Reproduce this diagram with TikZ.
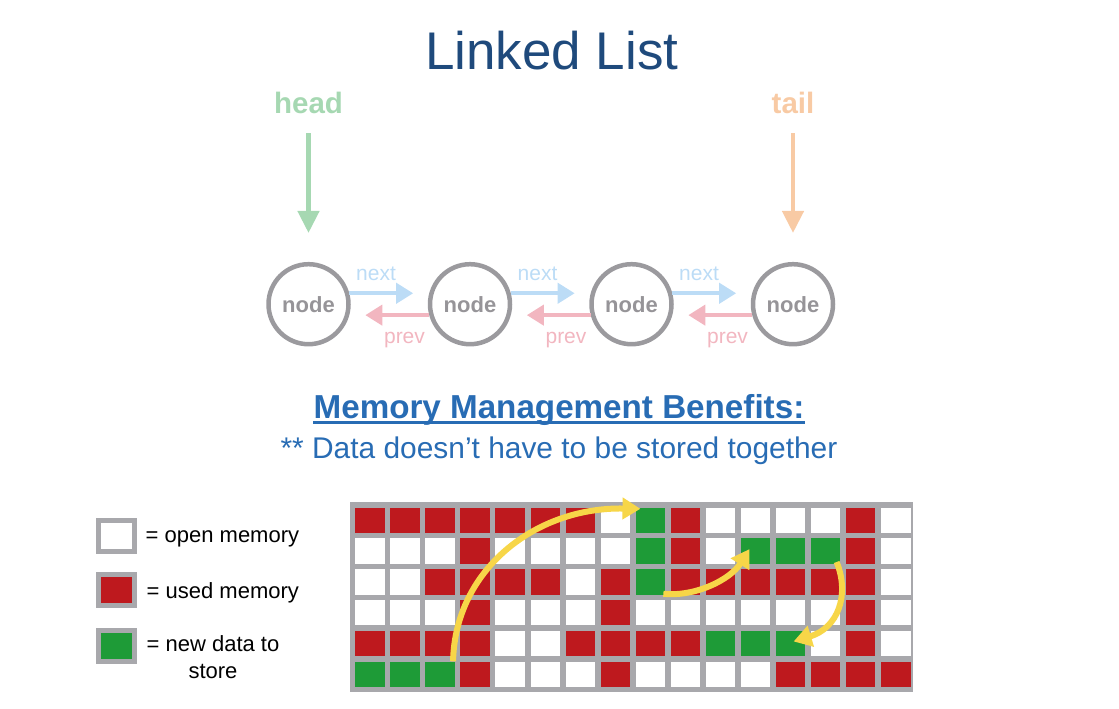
\documentclass[tikz,border=0pt]{standalone}
\usepackage{fontspec}
\setmainfont{Liberation Sans}
\usetikzlibrary{arrows.meta,calc}
\definecolor{titleblue}{RGB}{31,74,124}
\definecolor{headgreen}{RGB}{166,216,178}
\definecolor{tailpeach}{RGB}{248,202,164}
\definecolor{nodegray}{RGB}{150,148,152}
\definecolor{circlegray}{RGB}{155,154,158}
\definecolor{nextblue}{RGB}{188,220,246}
\definecolor{prevpink}{RGB}{242,182,192}
\definecolor{memblue}{RGB}{40,108,180}
\definecolor{cellred}{RGB}{190,25,30}
\definecolor{cellgreen}{RGB}{30,155,55}
\definecolor{gridgray}{RGB}{168,168,172}
\definecolor{arrowyellow}{RGB}{247,214,72}
\begin{document}
\begin{tikzpicture}[x=1pt,y=-1pt,
  llnode/.style={circle, draw=circlegray, line width=4.5pt, minimum size=80pt, inner sep=0pt,
    text=nodegray, font=\bfseries\fontsize{22}{26}\selectfont},
  nextarr/.style={draw=nextblue, line width=4pt, -{Triangle[width=20pt,length=17pt]}, shorten >=16pt},
  prevarr/.style={draw=prevpink, line width=4pt, -{Triangle[width=20pt,length=17pt]}, shorten >=16pt},
  nextlbl/.style={text=nextblue, font=\fontsize{21}{25}\selectfont, anchor=base, inner sep=0pt},
  prevlbl/.style={text=prevpink, font=\fontsize{21}{25}\selectfont, anchor=base, inner sep=0pt},
  endtxt/.style={font=\bfseries\fontsize{29.5}{34}\selectfont, anchor=base, inner sep=0pt},
  endarr/.style={line width=4.5pt, -{Triangle[width=21pt,length=22pt]}, shorten <=20pt, shorten >=29pt},
  cell/.style={minimum width=29.5pt, minimum height=25.5pt, inner sep=0pt, draw=none},
  cellR/.style={fill=cellred},
  cellW/.style={fill=white},
  cellG/.style={fill=cellgreen},
  legbox/.style={draw=gridgray, line width=5pt, minimum width=36pt, minimum height=31pt, inner sep=0pt},
  legtxt/.style={font=\fontsize{22}{26.6}\selectfont, anchor=base west, inner sep=0pt},
  movearr/.style={draw=arrowyellow, line width=6pt, -{Triangle[width=21pt,length=18pt]}}
]
\useasboundingbox (0,0) rectangle (1119,709);

% title
\node[font=\fontsize{53}{60}\selectfont, text=titleblue, anchor=base, inner sep=0pt] (title) at (551.75,70) {Linked List};

% head / tail
\node[endtxt, text=headgreen] (head) at (308.5,113) {head};
\node[endtxt, text=tailpeach] (tail) at (793,113) {tail};

% linked list nodes
\foreach \i/\x in {1/308.5,2/470,3/631.5,4/793}
  \node[llnode] (n\i) at (\x,304.2) {node};

\draw[endarr, draw=headgreen] (head) -- (n1);
\draw[endarr, draw=tailpeach] (tail) -- (n4);

\foreach \a/\b in {1/2,2/3,3/4} {
  \draw[nextarr] (n\a.15) -- (n\b.165);
  \draw[prevarr] (n\b.195) -- (n\a.-15);
}
\foreach \k/\x in {1/376,2/537.5,3/699}
  \node[nextlbl] (nx\k) at (\x,280) {next};
\foreach \k/\x in {1/404.5,2/566,3/727.5}
  \node[prevlbl] (pv\k) at (\x,343) {prev};

% memory header
\node[font=\bfseries\fontsize{33.2}{40}\selectfont, text=memblue, anchor=base, inner sep=0pt] (mm) at (559,418) {Memory Management Benefits:};
\draw[memblue, line width=2.5pt] ($(mm.base west)+(0,4.5)$) -- ($(mm.base east)+(0,4.5)$);
\node[font=\fontsize{29.9}{35}\selectfont, text=memblue, anchor=base, inner sep=0pt] (data) at (559,458) {** Data doesn’t have to be stored together};

% legend
\node[legbox, fill=white] (lw) at (116.5,536) {};
\node[legbox, fill=cellred] (lr) at (116.5,590) {};
\node[legbox, fill=cellgreen] (lg) at (116.5,645.7) {};
\node[legtxt] (tw) at (145.5,542) {= open memory};
\node[legtxt] (tr) at (146.5,598) {= used memory};
\node[font=\fontsize{22}{26.6}\selectfont, align=center, anchor=base, inner sep=0pt] (tg) at (213,678.3) {= new data to\\store};

% memory grid
\node[fill=gridgray, minimum width=563pt, minimum height=190pt, inner sep=0pt] (grid) at (631.5,597) {};
\foreach \row [count=\j from 0] in {
  {R,R,R,R,R,R,R,W,G,R,W,W,W,W,R,W},
  {W,W,W,R,W,W,W,W,G,R,W,G,G,G,R,W},
  {W,W,R,R,R,R,W,R,G,R,R,R,R,R,R,W},
  {W,W,W,R,W,W,W,R,W,W,W,W,W,W,R,W},
  {R,R,R,R,W,W,R,R,R,R,G,G,G,W,R,W},
  {G,G,G,R,W,W,W,R,W,W,W,W,R,R,R,R}} {
  \foreach \c [count=\i from 0] in \row {
    \node[cell, cell\c] (c-\j-\i) at ({370+35.05*\i},{520.25+30.8*\j}) {};
  }
}

% yellow move arrows
\draw[movearr] ($(c-5-2.north east)+(-2,0)$) .. controls (455,570) and (535,507) .. ($(c-0-8.north west)+(5,1.5)$);
\draw[movearr] ($(c-2-8.south east)+(-2,-1)$) .. controls (695,597) and (730,580) .. ($(c-1-11.center)+(-6,-2)$);
\draw[movearr] ($(c-1-13.south east)+(-4,-2)$) .. controls (850,595) and (838,628) .. ($(c-4-12.center)+(3,-2)$);
\end{tikzpicture}
\end{document}
